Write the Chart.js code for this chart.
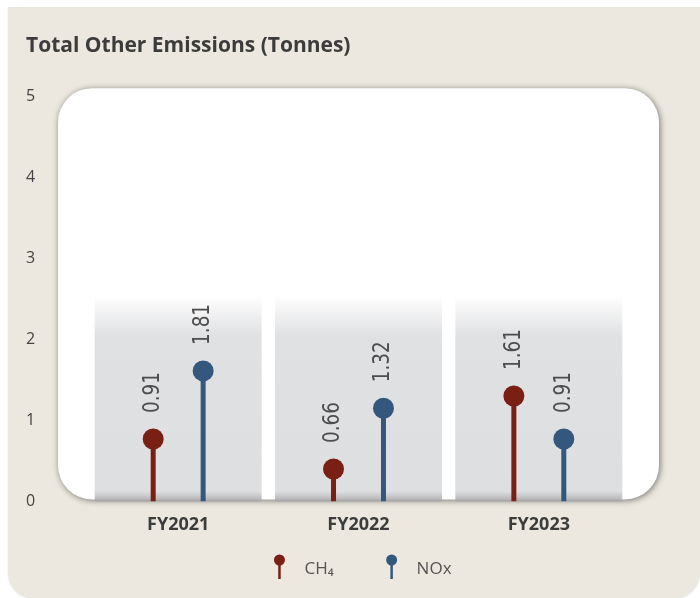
<!DOCTYPE html>
<html>
<head>
<meta charset="utf-8">
<script src="https://cdn.jsdelivr.net/npm/chart.js@4"></script>
<style>
  html, body { margin: 0; padding: 0; background: #fff; }
  #quadro {
    position: absolute; left: 8px; top: 7px; width: 692px; height: 591px;
    background: #ece8df; border-radius: 0 0 26px 26px;
    box-shadow: 0 1px 2px rgba(0,0,0,0.12);
  }
  #grafico { position: absolute; left: 0; top: 0; }
</style>
</head>
<body>
<div id="quadro"></div>
<canvas id="grafico" width="700" height="598"></canvas>
<script>
// Dados
const categorias = ['FY2021', 'FY2022', 'FY2023'];
const nomesSeries = ['CH₄', 'NOx'];
const alturaCH4 = [0.77, 0.40, 1.30];   // posição visual das hastes
const alturaNOx = [1.61, 1.15, 0.77];
const rotulosCH4 = ['0.91', '0.66', '1.61'];  // valores escritos na figura
const rotulosNOx = ['1.81', '1.32', '0.91'];
const ticksY = [0, 1, 2, 3, 4, 5];

const corCH4 = '#7a1f14';
const corNOx = '#34577d';

// Painel branco + faixas cinzas atrás das categorias
const fundoPlugin = {
    id: 'fundo',
    beforeDraw(chart) {
        const { ctx, chartArea: a, scales } = chart;
        const x = scales.x, y = scales.y;
        ctx.save();
        // painel branco com sombra
        const pl = a.left - 30, pt = a.top - 8, pr = a.right + 30, pb = a.bottom - 2;
        ctx.beginPath();
        ctx.roundRect(pl, pt, pr - pl, pb - pt, 34);
        ctx.shadowColor = 'rgba(0,0,0,0.5)';
        ctx.shadowBlur = 6;
        ctx.shadowOffsetX = 1;
        ctx.shadowOffsetY = 1;
        ctx.fillStyle = '#ffffff';
        ctx.fill();
        ctx.restore();

        // faixas
        ctx.save();
        const topo = y.getPixelForValue(2.55);
        const base = y.getPixelForValue(0);
        categorias.forEach((c, i) => {
            const cx = x.getPixelForValue(i);
            const meia = 83.5;
            const g = ctx.createLinearGradient(0, topo, 0, base);
            g.addColorStop(0, 'rgba(224,225,227,0)');
            g.addColorStop(0.2, 'rgba(224,225,227,1)');
            g.addColorStop(0.95, 'rgba(222,223,225,1)');
            g.addColorStop(0.985, 'rgba(190,190,192,1)');
            g.addColorStop(1, 'rgba(160,160,162,1)');
            ctx.fillStyle = g;
            ctx.fillRect(cx - meia, topo, meia * 2, base - topo);
        });
        ctx.restore();
    }
};

// Bolinhas no topo das hastes + rótulos verticais + legenda
const pirulitoPlugin = {
    id: 'pirulito',
    afterDatasetsDraw(chart) {
        const ctx = chart.ctx;
        const rotulos = [rotulosCH4, rotulosNOx];
        chart.data.datasets.forEach((ds, d) => {
            const meta = chart.getDatasetMeta(d);
            meta.data.forEach((bar, i) => {
                ctx.save();
                ctx.beginPath();
                ctx.arc(bar.x, bar.y, 10.5, 0, Math.PI * 2);
                ctx.fillStyle = ds.backgroundColor;
                ctx.fill();
                ctx.restore();

                ctx.save();
                ctx.translate(bar.x, bar.y - 26);
                ctx.rotate(-Math.PI / 2);
                ctx.scale(0.8, 1);
                ctx.font = '23px "DejaVu Sans"';
                ctx.fillStyle = '#4d4d4d';
                ctx.textAlign = 'left';
                ctx.textBaseline = 'middle';
                ctx.fillText(rotulos[d][i], 0, 0);
                ctx.restore();
            });
        });
    },
    afterDraw(chart) {
        const ctx = chart.ctx;
        const a = chart.chartArea;
        const yLeg = 567;
        ctx.save();
        ctx.font = '17px "Open Sans"';
        const larguras = chart.data.datasets.map(ds => ctx.measureText(ds.label).width);
        const total = 25 + larguras[0] + 58 + 25 + larguras[1];
        let x = (a.left + a.right) / 2 - total / 2 + 7;
        chart.data.datasets.forEach((ds, d) => {
            // ícone
            ctx.fillStyle = ds.backgroundColor;
            ctx.fillRect(x - 1.25, yLeg - 7, 2.5, 19);
            ctx.beginPath();
            ctx.arc(x, yLeg - 7, 5.5, 0, Math.PI * 2);
            ctx.fill();
            // texto
            ctx.fillStyle = '#555555';
            ctx.textAlign = 'left';
            ctx.textBaseline = 'middle';
            ctx.fillText(ds.label, x + 25, yLeg + 2);
            x += 25 + larguras[d] + 58;
        });
        ctx.restore();
    }
};

const ctx = document.getElementById('grafico').getContext('2d');
new Chart(ctx, {
    type: 'bar',
    data: {
        labels: categorias,
        datasets: [
            { label: nomesSeries[0], data: alturaCH4, backgroundColor: corCH4 },
            { label: nomesSeries[1], data: alturaNOx, backgroundColor: corNOx }
        ]
    },
    options: {
        responsive: false,
        animation: false,
        categoryPercentage: 0.554,
        barPercentage: 0.1,
        layout: { padding: { left: 26, right: 71, top: 0, bottom: 57 } },
        plugins: {
            legend: { display: false },
            tooltip: { enabled: false },
            title: {
                display: true,
                text: 'Total Other Emissions (Tonnes)',
                align: 'start',
                color: '#3c3c3c',
                font: { family: 'Open Sans', size: 21, weight: 'bold' },
                padding: { top: 33, bottom: 38 }
            }
        },
        scales: {
            x: {
                grid: { display: false },
                border: { display: false },
                ticks: {
                    color: '#3c3c3c',
                    padding: 5,
                    font: { family: 'Open Sans', size: 18, weight: 'bold' }
                }
            },
            y: {
                min: 0,
                max: 5,
                afterBuildTicks(axis) { axis.ticks = ticksY.map(v => ({ value: v })); },
                afterFit(axis) { axis.width = 62; },
                grid: { display: false },
                border: { display: false },
                ticks: {
                    color: '#444444',
                    crossAlign: 'far',
                    font: { family: 'Open Sans', size: 16 }
                }
            }
        }
    },
    plugins: [fundoPlugin, pirulitoPlugin]
});
</script>
</body>
</html>
